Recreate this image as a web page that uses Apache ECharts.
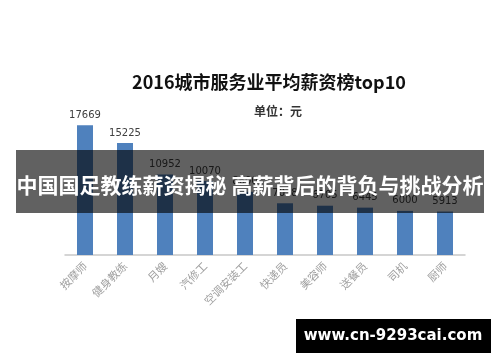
<!DOCTYPE html>
<html><head><meta charset="utf-8">
<script src="https://cdn.jsdelivr.net/npm/echarts@6/dist/echarts.min.js"></script>
<style>html,body{margin:0;padding:0;background:#fff}#c{width:500px;height:362px}</style>
</head><body><div id="c"></div>
<script>
const categories = ['按摩师','健身教练','月嫂','汽修工','空调安装工','快递员','美容师','送餐员','司机','厨师'];
const salaries = [17669, 15225, 10952, 10070, 8600, 7038, 6705, 6445, 6000, 5913];
const titleText = '2016城市服务业平均薪资榜top10';
const unitText = '单位：元';
const bannerText = '中国国足教练薪资揭秘 高薪背后的背负与挑战分析';
const watermarkText = 'www.cn-9293cai.com';

const chart = echarts.init(document.getElementById('c'));
chart.setOption({
  animation: false,
  title: [
    {text: titleText, left: 264, top: 68, textAlign: 'center',
     textStyle: {fontFamily: 'Noto Sans CJK SC', fontSize: 18, fontWeight: 'bold', color: '#111'}},
    {text: unitText, left: 273, top: 100, textAlign: 'center',
     textStyle: {fontFamily: 'Noto Sans CJK SC', fontSize: 12, fontWeight: 'bold', color: '#333'}}
  ],
  grid: {left: 65, right: 35, top: 108, bottom: 107},
  xAxis: {
    type: 'category', data: categories,
    axisLine: {lineStyle: {color: '#c8c8c8', width: 1.5}},
    axisTick: {show: false},
    axisLabel: {rotate: 45, fontSize: 11, color: '#a0a0a0', fontFamily: 'Noto Sans CJK SC', margin: 9, interval: 0}
  },
  yAxis: {type: 'value', min: 0, max: 20000, show: false, splitLine: {show: false}},
  series: [{
    type: 'bar', data: salaries, barWidth: 16,
    itemStyle: {color: '#4f81bd'},
    label: {show: true, position: 'top', distance: 5, fontSize: 10, color: '#404040', fontFamily: 'DejaVu Sans'}
  }],
  graphic: [
    {type: 'rect', shape: {x: 16, y: 150, width: 468, height: 63}, style: {fill: 'rgba(0,0,0,0.62)'}, z: 100},
    {type: 'text', x: 250, y: 185, z: 101,
     style: {text: bannerText, fill: '#fff', font: 'bold 21px "Noto Sans CJK SC"', textAlign: 'center', textVerticalAlign: 'middle'}},
    {type: 'rect', shape: {x: 296, y: 319, width: 195, height: 34}, style: {fill: '#000'}, z: 100},
    {type: 'text', x: 393, y: 336, z: 101,
     style: {text: watermarkText, fill: '#fff', font: 'bold 15px "DejaVu Sans"', textAlign: 'center', textVerticalAlign: 'middle'}}
  ]
});
</script></body></html>
